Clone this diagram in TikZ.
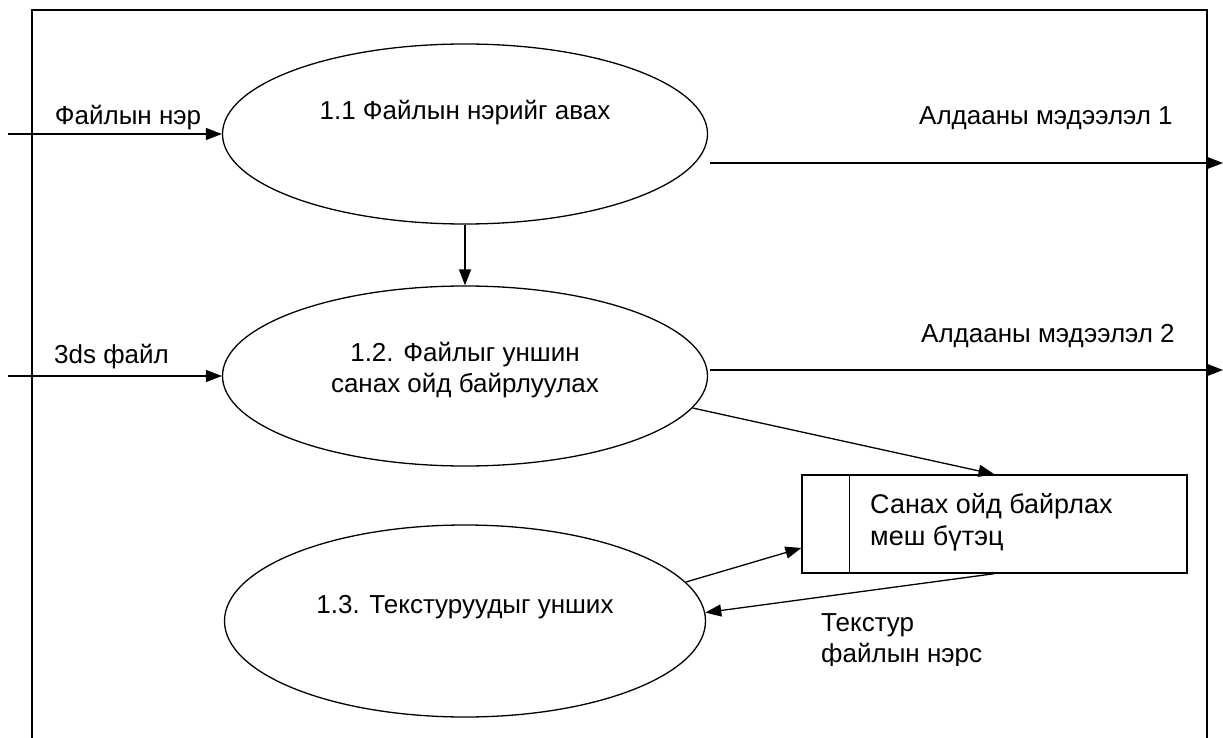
\documentclass[tikz,border=0pt]{standalone}
\usepackage{fontspec}
\setmainfont{Liberation Sans}
\usetikzlibrary{shapes.geometric,arrows.meta}
\tikzset{
  proc/.style={draw, ellipse, line width=1.3pt, inner sep=0pt,
               minimum width=485pt, minimum height=180pt},
  store/.style={draw, rectangle, line width=1.3pt, inner sep=0pt,
                minimum width=385pt, minimum height=98pt},
  txt/.style={font=\fontsize{26}{31}\selectfont, inner sep=0pt},
  flow/.style={line width=1.3pt, -{Triangle[length=16pt,width=12pt]}},
  frame/.style={line width=2pt}
}
\begin{document}
\begin{tikzpicture}[x=1pt,y=-1pt]
  \useasboundingbox (0,0) rectangle (1223,738);
  \clip (0,0) rectangle (1223,738);
  \fill[white] (0,0) rectangle (1223,738);

  % system boundary
  \draw[frame] (32,10) rectangle (1207,760);

  % processes
  \node[proc] (e1) at (465,134) {};
  \node[proc] (e2) at (465,376) {};
  \node[proc, minimum width=481pt, minimum height=192pt] (e3) at (465,621) {};
  \node[txt] (t1) at (465,113) {1.1 Файлын нэрийг авах};
  \node[txt, align=center] (t2) at (465,370) {1.2. Файлыг уншин\\санах ойд байрлуулах};
  \node[txt] (t3) at (465,607) {1.3. Текстуруудыг унших};

  % data store
  \node[store] (st) at (994.5,524) {};
  \draw[line width=1.3pt] ([xshift=48pt]st.north west) -- ([xshift=48pt]st.south west);
  \node[txt, font=\fontsize{27}{32}\selectfont, align=left, anchor=west] (stl) at (870,522) {Санах ойд байрлах\\меш бүтэц};

  % free ends of external flows
  \coordinate (in1) at (8,134);
  \coordinate (in2) at (8,376);
  \coordinate (out1) at (1223,163);
  \coordinate (out2) at (1223,370);

  % flows
  \draw[flow] (in1) -- (e1.west);
  \draw[flow] (in2) -- (e2.west);
  \draw[flow] ([xshift=2pt,yshift=-29pt]e1.east) -- (out1);
  \draw[flow] ([xshift=2pt,yshift=6pt]e2.east) -- (out2);
  \draw[flow] (e1.south) -- (e2.north);
  \draw[flow] (e2.-8) -- (st.north);
  \draw[flow] (e3.10) -- ([yshift=-24pt]st.west);
  \draw[flow] (st.south) -- (e3.2);

  % flow labels
  \node[txt] (l1) at (128,118) {Файлын нэр};
  \node[txt, anchor=west] (l2) at (54,357) {3ds файл};
  \node[txt] (l3) at (1046,118) {Алдааны мэдээлэл 1};
  \node[txt] (l4) at (1048,336) {Алдааны мэдээлэл 2};
  \begin{scope}
    \clip (800,595) rectangle (1000,665);
    \node[txt, align=left, anchor=west] (l5) at (821,641) {Текстур\\файлын нэрс};
  \end{scope}
\end{tikzpicture}
\end{document}
